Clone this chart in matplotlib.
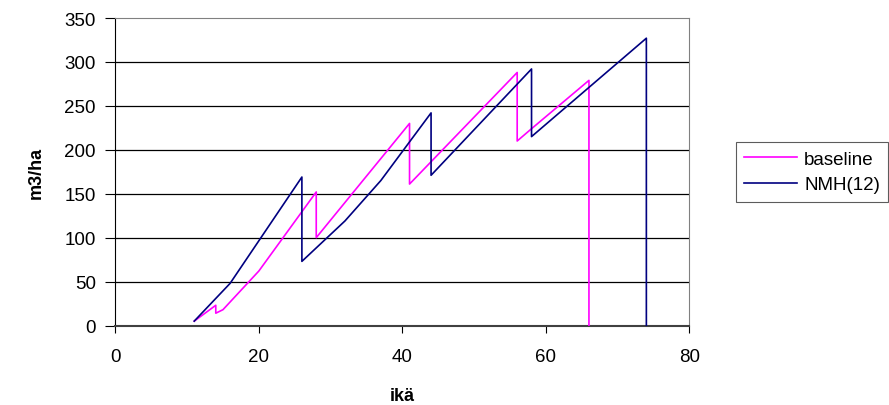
""" volume (m3/ha) by age for baseline and NMH(12) """

import matplotlib.pyplot as plt

# baseline series (age, volume)
baseline_age = [11, 14, 14, 15, 20, 28, 28, 41, 41, 56, 56, 58, 66, 66]
baseline_vol = [5, 23, 14, 18, 62, 152, 100, 230, 161, 288, 210, 224, 279, 0]

# NMH(12) series
nmh_age = [11, 16, 26, 26, 32, 37, 44, 44, 58, 58, 74, 74]
nmh_vol = [5, 48, 169, 73, 119, 165, 242, 171, 292, 215, 327, 0]

y_ticks = [0, 50, 100, 150, 200, 250, 300, 350]
x_ticks = [0, 20, 40, 60, 80]

plt.rcParams['font.family'] = ['Liberation Sans', 'DejaVu Sans']

fig = plt.figure(figsize=(8.89, 4.06), dpi=100)
ax = fig.add_axes([0.1297, 0.1958, 0.6458, 0.7574])

# horizontal grid lines
for v in y_ticks[1:-1]:
    ax.axhline(v, color='black', lw=0.9, zorder=1)

ax.plot(baseline_age, baseline_vol, color='#FF00FF', lw=1.2, label='baseline', zorder=3)
ax.plot(nmh_age, nmh_vol, color='#000080', lw=1.2, label='NMH(12)', zorder=3)

ax.set_xlim(0, 80)
ax.set_ylim(0, 350)
ax.set_xticks(x_ticks)
ax.set_yticks(y_ticks)
ax.tick_params(axis='both', labelsize=13.5, colors='black', direction='out')
ax.tick_params(axis='y', length=7, pad=7)
ax.tick_params(axis='x', length=5, pad=11)

ax.spines['top'].set_color('#808080')
ax.spines['right'].set_color('#808080')
ax.spines['left'].set_color('black')
ax.spines['bottom'].set_color('#404040')
ax.spines['bottom'].set_linewidth(1.5)

ax.set_ylabel('m3/ha', fontsize=13, fontweight='bold', labelpad=14)
ax.set_xlabel('ikä', fontsize=13, fontweight='bold', labelpad=16)

leg = fig.legend(loc='upper left', bbox_to_anchor=(0.817, 0.67), fontsize=13.5,
                 frameon=True, fancybox=False, edgecolor='#333333', handlelength=2.8,
                 borderpad=0.45, labelspacing=0.45, handletextpad=0.4)
leg.get_frame().set_linewidth(0.8)

fig.savefig('out.png', dpi=100)
